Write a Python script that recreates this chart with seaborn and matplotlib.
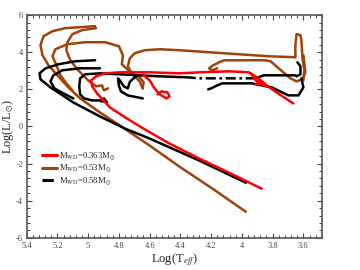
import numpy as np
import pandas as pd
import matplotlib
matplotlib.use("Agg")
import matplotlib.pyplot as plt
from matplotlib.lines import Line2D
from matplotlib.ticker import MultipleLocator
import seaborn as sns

# ---------------- data (log Teff, log L/Lsun) ----------------
# M_WD = 0.53 Msun (brown)
br1_T = [3.600, 3.594, 3.606, 3.613, 3.619, 3.645, 3.652, 3.652, 3.826, 4.019, 4.213, 4.406, 4.535, 4.632, 4.697, 4.729, 4.742, 4.716, 4.665, 4.639, 4.645]
br1_L = [2.486, 3.027, 3.676, 4.649, 4.919, 4.973, 4.378, 3.730, 3.784, 3.892, 4.000, 4.108, 4.162, 4.108, 3.946, 3.676, 3.243, 2.865, 2.649, 2.378, 2.054]
br2_T = [3.600, 3.587, 3.606, 3.645, 3.684, 3.761, 3.813, 3.852, 4.019, 4.116, 4.148, 4.187, 4.213, 4.194, 4.161]
br2_L = [3.838, 2.919, 2.541, 2.432, 2.595, 3.135, 3.514, 3.568, 3.568, 3.568, 3.459, 3.297, 3.135, 3.027, 3.135]
br3_T = [4.645, 4.665, 4.723, 4.781, 4.774, 4.800, 4.890, 5.019, 5.135, 5.213, 5.232, 5.206, 5.181, 5.142, 5.103]
br3_L = [2.054, 2.432, 2.919, 3.351, 3.838, 4.324, 4.541, 4.541, 4.432, 4.162, 3.784, 3.297, 2.757, 2.324, 1.946]
br4_T = [4.955, 5.052, 5.148, 5.232, 5.290, 5.310, 5.297, 5.258, 5.200, 5.129, 5.052, 4.923, 4.794, 4.600, 4.406, 4.181, 3.974]
br4_L = [5.405, 5.351, 5.297, 5.135, 4.865, 4.378, 3.838, 3.297, 2.757, 2.108, 1.514, 0.757, 0.054, -1.027, -2.162, -3.405, -4.595]
br5_T = [4.948, 5.039, 5.103, 5.135, 5.142, 5.116, 5.065, 5.000, 4.948, 4.910, 4.897, 4.871]
br5_L = [5.297, 5.189, 4.973, 4.541, 4.108, 3.568, 3.027, 2.486, 2.162, 2.216, 1.946, 2.054]

# M_WD = 0.363 Msun (red)
rd1_T = [3.665, 3.716, 3.774, 3.839, 3.903, 3.955, 4.084, 4.277, 4.406, 4.600, 4.794, 4.890, 4.948, 4.981, 4.974, 4.942, 4.858, 4.748, 4.619, 4.471, 4.277, 4.084, 3.871]
rd1_L = [1.243, 1.514, 1.838, 2.216, 2.649, 2.919, 2.973, 2.919, 2.865, 2.919, 2.919, 2.865, 2.703, 2.486, 2.162, 1.784, 1.027, 0.432, -0.216, -0.919, -1.730, -2.486, -3.351]
rd2_T = [4.645, 4.600, 4.568, 4.535, 4.490, 4.471, 4.484, 4.523, 4.548]
rd2_L = [2.811, 2.486, 2.054, 1.730, 1.514, 1.622, 1.838, 1.892, 1.730]
rd3_T = [3.942, 3.910, 3.839, 3.877, 3.910, 3.852]
rd3_L = [2.865, 2.486, 2.162, 2.486, 2.270, 2.270]

# M_WD = 0.58 Msun (black)
bk1_T = [3.639, 3.619, 3.619, 3.645, 3.652, 3.761, 3.858, 3.910]
bk1_L = [3.459, 3.243, 2.811, 2.703, 2.757, 2.757, 2.757, 2.595]
bk2_T = [3.910, 4.084, 4.277, 4.355]   # dash-dotted part
bk2_L = [2.595, 2.595, 2.595, 2.649]
bk3_T = [4.355, 4.535, 4.665, 4.794, 4.923, 5.019, 5.052, 5.058, 5.052, 5.026, 4.974, 4.923, 4.877, 4.897, 4.916]
bk3_L = [2.649, 2.703, 2.757, 2.811, 2.865, 2.811, 2.595, 2.162, 1.730, 1.514, 1.405, 1.405, 1.297, 1.514, 1.351]
bk4_T = [4.690, 4.729, 4.742, 4.768, 4.794, 4.806, 4.800, 4.787, 4.742, 4.645]
bk4_L = [2.703, 2.405, 2.054, 2.162, 2.486, 2.595, 2.216, 1.892, 1.676, 1.514]
bk6_T = [4.955, 5.084, 5.194, 5.277, 5.316, 5.310, 5.245, 5.097, 4.923, 4.761, 4.600, 4.277, 3.974]
bk6_L = [3.568, 3.514, 3.351, 3.135, 2.865, 2.541, 2.108, 1.297, 0.541, -0.108, -0.649, -1.838, -3.027]
bk7_T = [4.923, 5.052, 5.168, 5.226, 5.245, 5.219, 5.161, 5.097]
bk7_L = [3.135, 3.135, 3.027, 2.757, 2.432, 2.054, 1.784, 1.514]
bk8_T = [4.219, 4.200, 4.174, 4.129, 3.935, 3.806, 3.697, 3.632, 3.600, 3.613]
bk8_L = [2.000, 2.054, 2.162, 2.324, 2.324, 2.108, 1.676, 1.676, 2.108, 2.595]

labels = [r"M$_{\rm WD}$=0.363M$_{\odot}$", r"M$_{\rm WD}$=0.53M$_{\odot}$", r"M$_{\rm WD}$=0.58M$_{\odot}$"]
colors = ["#ff0000", "#a0420a", "#000000"]

def frame(segs):
    rows = []
    for i, (t, l) in enumerate(segs):
        for a, b in zip(t, l):
            rows.append((a, b, i))
    return pd.DataFrame(rows, columns=["T", "L", "seg"])

df_red = frame([(rd1_T, rd1_L), (rd2_T, rd2_L), (rd3_T, rd3_L)])
df_brown = frame([(br1_T, br1_L), (br2_T, br2_L), (br3_T, br3_L), (br4_T, br4_L), (br5_T, br5_L)])
df_black = frame([(bk1_T, bk1_L), (bk3_T, bk3_L), (bk4_T, bk4_L), (bk6_T, bk6_L), (bk7_T, bk7_L), (bk8_T, bk8_L)])
df_black_d = frame([(bk2_T, bk2_L)])

sns.set_theme(style="white")
plt.rcParams["font.family"] = ["Liberation Serif", "DejaVu Serif"]
plt.rcParams["mathtext.fontset"] = "stix"

fig = plt.figure(figsize=(3.6, 2.7), dpi=100)
ax = fig.add_axes([0.074, 0.119, 0.820, 0.825])

lw = 1.8
sns.lineplot(data=df_brown, x="T", y="L", units="seg", estimator=None, sort=False, color=colors[1], lw=lw, ax=ax)
sns.lineplot(data=df_black, x="T", y="L", units="seg", estimator=None, sort=False, color=colors[2], lw=lw, ax=ax)
sns.lineplot(data=df_black_d, x="T", y="L", units="seg", estimator=None, sort=False, color=colors[2], lw=lw,
             linestyle=(0, (4, 1.5, 1, 1.5)), ax=ax)
sns.lineplot(data=df_red, x="T", y="L", units="seg", estimator=None, sort=False, color=colors[0], lw=lw, ax=ax)

ax.set_xlim(5.4, 3.48)
ax.set_ylim(-6, 6)
ax.xaxis.set_minor_locator(MultipleLocator(0.04))
ax.yaxis.set_minor_locator(MultipleLocator(0.4))
ax.set_xticks([5.4, 5.2, 5.0, 4.8, 4.6, 4.4, 4.2, 4.0, 3.8, 3.6])
ax.set_xticklabels(["5.4", "5.2", "5", "4.8", "4.6", "4.4", "4.2", "4", "3.8", "3.6"])
ax.set_yticks([-6, -4, -2, 0, 2, 4, 6])
ax.set_yticklabels(["-6", "-4", "-2", "0", "2", "4", "6"])
ax.tick_params(which="both", direction="in", top=True, right=True, bottom=True, left=True,
               labelsize=6, colors="#444444")
ax.tick_params(axis="x", which="major", pad=3)
ax.tick_params(axis="y", which="major", pad=2.5)
ax.tick_params(which="major", length=3.5, width=0.8)
ax.tick_params(which="minor", length=2, width=0.7)
for s in ax.spines.values():
    s.set_color("#555555")
    s.set_linewidth(1.2)

ax.set_xlabel(r"Log(T$_{eff}$)", fontsize=9, labelpad=1)
ax.set_ylabel(r"Log(L/L$_{\odot}$)", fontsize=8.8, labelpad=0)

handles = [Line2D([], [], color=colors[0], lw=2.2),
           Line2D([], [], color=colors[1], lw=2.2),
           Line2D([], [], color=colors[2], lw=2.2, linestyle="--")]
leg = ax.legend(handles, labels, loc="upper left", bbox_to_anchor=(0.04, 0.41), frameon=False,
                fontsize=6.2, handlelength=1.7, handletextpad=0.3, labelspacing=0.12, borderaxespad=0)

fig.savefig("out.png", dpi=100)
